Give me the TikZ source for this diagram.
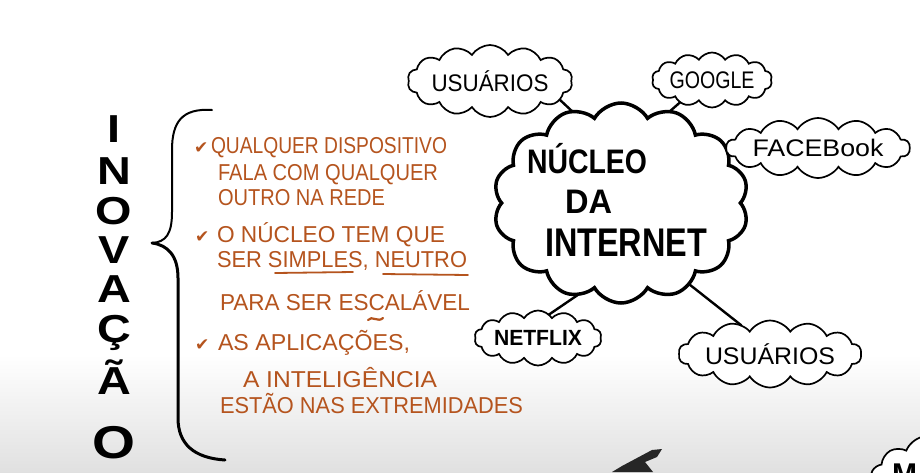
\documentclass[tikz,border=0pt]{standalone}
\usepackage{fontspec}
\setmainfont{Liberation Sans}
\newfontfamily\symfont{DejaVu Sans}
\usetikzlibrary{shapes.symbols}
\definecolor{ink}{RGB}{181,84,30}
\newcommand{\fitw}[2]{\resizebox{#1}{\height}{#2}}
\newcommand{\wide}[1]{\scalebox{1.2}[1]{#1}}
\begin{document}
\begin{tikzpicture}[x=1pt,y=-1pt,
  every node/.style={inner sep=0pt, outer sep=0pt},
  note/.style={anchor=base west, text=ink, font=\fontsize{23}{23}\selectfont},
  tick/.style={anchor=base west, text=ink, font=\symfont\fontsize{17}{17}\selectfont},
  vletter/.style={anchor=base, font=\bfseries\fontsize{39}{39}\selectfont},
  core/.style={anchor=base west, font=\bfseries\fontsize{34}{34}\selectfont},
  smallcloud/.style={cloud, cloud puffs=14, cloud puff arc=115, cloud ignores aspect, draw=black, line width=1.7pt, fill=white, font=\fontsize{24}{24}\selectfont},
  maincloud/.style={cloud, cloud puffs=14, cloud puff arc=120, cloud ignores aspect, draw=black, line width=3.5pt, fill=white},
  link/.style={draw=black, line width=2.4pt, line cap=round},
  inkline/.style={draw=ink, line width=1.8pt, line cap=round},
  bracestroke/.style={draw=black, line cap=round, line join=round},
]
\useasboundingbox (0,0) rectangle (920,472);
\clip (0,0) rectangle (920,472);
\fill[white] (0,0) rectangle (920,472);
\shade[top color=white, bottom color=black!12] (0,355) rectangle (920,472);

% vertical word
\node[vletter] (v1) at (114,142) {\wide{I}};
\node[vletter] (v2) at (114,184) {\wide{N}};
\node[vletter] (v3) at (114,224) {\wide{O}};
\node[vletter] (v4) at (114,263) {\wide{V}};
\node[vletter] (v5) at (114,302) {\wide{A}};
\node[vletter] (v6) at (114,342) {\wide{Ç}};
\node[vletter] (v7) at (114,394) {\wide{Ã}};
\node[vletter, font=\bfseries\fontsize{46}{46}\selectfont] (v8) at (114,458) {\wide{O}};

% brace
\draw[bracestroke, line width=2pt] (212,110) .. controls (182,108) and (172,122) .. (172,150) -- (172,212) .. controls (172,234) and (166,242) .. (152,243);
\draw[bracestroke, line width=3pt] (152,243) .. controls (168,245) and (178,256) .. (178,278) -- (178,418) .. controls (178,444) and (194,458) .. (225,460);

% notes
\node[tick] (c1) at (194,153) {✔};
\node[note] (l1) at (211,153) {\fitw{236pt}{QUALQUER DISPOSITIVO}};
\node[note] (l2) at (218,180) {\fitw{220pt}{FALA COM QUALQUER}};
\node[note] (l3) at (218,205) {\fitw{167pt}{OUTRO NA REDE}};
\node[tick] (c2) at (195,242) {✔};
\node[note] (l4) at (217,242) {\fitw{228pt}{O NÚCLEO TEM QUE}};
\node[note] (l5) at (217,267) {\fitw{250pt}{SER SIMPLES, NEUTRO}};
\node[note] (l6) at (220,310) {\fitw{250pt}{PARA SER ESCALÁVEL}};
\node[tick] (c3) at (195,350) {✔};
\node[note] (l7) at (218,350) {\fitw{192pt}{AS APLICAÇÕES,}};
\node[note] (l8) at (243,387) {\fitw{194pt}{A INTELIGÊNCIA}};
\node[note] (l9) at (220,413) {\fitw{303pt}{ESTÃO NAS EXTREMIDADES}};
\draw[inkline] (275,273) -- (353,272);
\draw[inkline] (383,274) -- (468,275);
\draw[inkline, line width=2.2pt] (368,320) .. controls (372,315) and (378,323) .. (383,318);

% clouds
\node[maincloud, minimum width=255pt, minimum height=200pt] (main) at (621,203) {};
\node[core] (t1) at (527,173) {\fitw{120pt}{NÚCLEO}};
\node[core] (t2) at (565,213) {\fitw{47pt}{DA}};
\node[core, font=\bfseries\fontsize{40}{40}\selectfont] (t3) at (545,256) {\fitw{162pt}{INTERNET}};

\node[smallcloud, minimum width=156pt, minimum height=72pt] (usuTop) at (490,81) {\fitw{117pt}{USUÁRIOS}};
\node[smallcloud, minimum width=115pt, minimum height=55pt] (google) at (712,80) {\fitw{85pt}{GOOGLE}};
\node[smallcloud, minimum width=170pt, minimum height=60pt] (facebook) at (818,148) {\fitw{131pt}{FACEBook}};
\node[smallcloud, minimum width=127pt, minimum height=55pt, font=\bfseries\fontsize{22}{22}\selectfont] (netflix) at (538,338) {\fitw{88pt}{NETFLIX}};
\node[smallcloud, minimum width=166pt, minimum height=67pt] (usuBot) at (770,354) {\fitw{130pt}{USUÁRIOS}};

\draw[link] (usuTop.-15) -- (main.118);
\draw[link] (google.215) -- (main.62);
\draw[link] (facebook.183) -- (main.24);
\draw[link] (netflix.65) -- (main.245);
\draw[link] (usuBot.135) -- (main.-50);

% partial elements at the bottom edge
\fill[black!85] (612,472) -- (622,466) -- (652,450) -- (662,449) -- (657,457) -- (645,462) -- (653,472) -- cycle;
\node[smallcloud, minimum width=184pt, minimum height=100pt] (mcloud) at (962,482) {};
\node[anchor=base west, font=\bfseries\fontsize{30}{30}\selectfont] (mtext) at (892,484) {M};
\end{tikzpicture}
\end{document}
